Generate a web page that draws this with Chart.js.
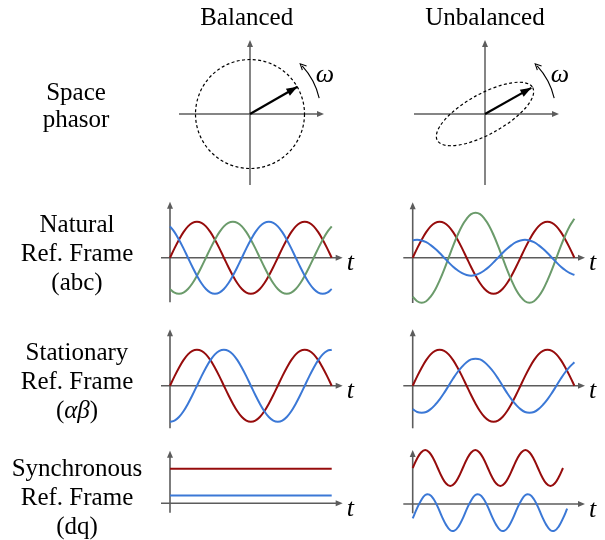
<!DOCTYPE html>
<html>
<head>
<meta charset="utf-8">
<script src="https://cdn.jsdelivr.net/npm/chart.js@4.4.0/dist/chart.umd.min.js"></script>
<style>
    body { margin: 0; background: #fff; }
    #page { position: relative; width: 605px; height: 540px; overflow: hidden; font-family: "Liberation Serif", serif; color: #000; }
    #page canvas { position: absolute; }
    .lbl { position: absolute; width: 200px; text-align: center; font-size: 25px; line-height: 29px; white-space: nowrap; }
    .lbl i { font-style: italic; }
</style>
</head>
<body>
<div id="page"></div>
<script>
// ---- data ----
// electrical angle (deg) used by the abc / alpha-beta panels
const theta = [0, 15, 30, 45, 60, 75, 90, 105, 120, 135, 150, 165, 180, 195, 210, 225, 240, 255, 270,
    285, 300, 315, 330, 345, 360, 375, 390, 405, 420, 435, 450, 465, 480, 495, 510, 525, 540];

// phase a is the same in both columns
const phaseA = [0, .26, .5, .71, .87, .97, 1, .97, .87, .71, .5, .26, 0, -.26, -.5, -.71, -.87, -.97, -1,
    -.97, -.87, -.71, -.5, -.26, 0, .26, .5, .71, .87, .97, 1, .97, .87, .71, .5, .26, 0];

// balanced abc
const balB = [-.87, -.97, -1, -.97, -.87, -.71, -.5, -.26, 0, .26, .5, .71, .87, .97, 1, .97, .87, .71, .5,
    .26, 0, -.26, -.5, -.71, -.87, -.97, -1, -.97, -.87, -.71, -.5, -.26, 0, .26, .5, .71, .87];
const balC = [.87, .71, .5, .26, 0, -.26, -.5, -.71, -.87, -.97, -1, -.97, -.87, -.71, -.5, -.26, 0, .26, .5,
    .71, .87, .97, 1, .97, .87, .71, .5, .26, 0, -.26, -.5, -.71, -.87, -.97, -1, -.97, -.87];

// unbalanced abc
const unbB = [-1.08, -1.21, -1.25, -1.21, -1.08, -.89, -.63, -.33, 0, .33, .63, .89, 1.08, 1.21, 1.25, 1.21,
    1.08, .89, .63, .33, 0, -.33, -.63, -.89, -1.08, -1.21, -1.25, -1.21, -1.08, -.89, -.63, -.33, 0, .33,
    .63, .89, 1.08];
const unbC = [.48, .5, .48, .43, .35, .25, .13, 0, -.13, -.25, -.35, -.43, -.48, -.5, -.48, -.43, -.35, -.25,
    -.13, 0, .13, .25, .35, .43, .48, .5, .48, .43, .35, .25, .13, 0, -.13, -.25, -.35, -.43, -.48];

// alpha-beta
const balBeta = [-1, -.97, -.87, -.71, -.5, -.26, 0, .26, .5, .71, .87, .97, 1, .97, .87, .71, .5, .26, 0,
    -.26, -.5, -.71, -.87, -.97, -1, -.97, -.87, -.71, -.5, -.26, 0, .26, .5, .71, .87, .97, 1];
const unbBeta = [-.65, -.73, -.75, -.73, -.65, -.53, -.38, -.2, 0, .2, .38, .53, .65, .73, .75, .73, .65, .53,
    .38, .2, 0, -.2, -.38, -.53, -.65, -.73, -.75, -.73, -.65, -.53, -.38, -.2, 0, .2, .38, .53, .65];

// dq, balanced: two constants
const dqSpan = [0, 540];
const balD = [.96, .96];
const balQ = [.22, .22];

// dq, unbalanced: ripple at twice the supply frequency (x in ripple degrees)
const ripplePhaseD = [0, 30, 60, 90, 120, 150, 180, 210, 240, 270, 300, 330, 360, 390, 420, 450, 480, 510,
    540, 570, 600, 630, 660, 690, 720, 750, 780, 810, 840, 870, 900, 930, 960, 990, 1020, 1050, 1080];
const ripplePhaseQ = [0, 30, 60, 90, 120, 150, 180, 210, 240, 270, 300, 330, 360, 390, 420, 450, 480, 510,
    540, 570, 600, 630, 660, 690, 720, 750, 780, 810, 840, 870, 900, 930, 960, 990, 1020, 1050, 1080, 1110];
const unbD = [1, 1.25, 1.43, 1.5, 1.43, 1.25, 1, .75, .57, .5, .57, .75, 1, 1.25, 1.43, 1.5, 1.43, 1.25, 1,
    .75, .57, .5, .57, .75, 1, 1.25, 1.43, 1.5, 1.43, 1.25, 1, .75, .57, .5, .57, .75, 1];
const unbQ = [-.4, -.13, .1, .25, .26, .14, -.08, -.35, -.58, -.73, -.74, -.62, -.4, -.13, .1, .25, .26, .14,
    -.08, -.35, -.58, -.73, -.74, -.62, -.4, -.13, .1, .25, .26, .14, -.08, -.35, -.58, -.73, -.74, -.62,
    -.4, -.13];

// space phasor tips and loci [semi-major, semi-minor, tilt deg]
const balTip = [.87, .5];
const unbTip = [.85, .48];
const balLocus = [1, 1, 0];
const unbLocus = [1, .37, 29];

// ---- style ----
const RED = '#960c0c';
const BLUE = '#3b78d6';
const GREEN = '#6b9b6b';
const AXIS = '#5c5c5c';
const page = document.getElementById('page');

const addCanvas = (box) => {
    const c = document.createElement('canvas');
    c.width = box.w; c.height = box.h;
    c.style.left = box.left + 'px'; c.style.top = box.top + 'px';
    page.appendChild(c);
    return c.getContext('2d');
};

// scale limits so that data (0,0) lands on the given pixel origin
const frame = (box, origin, sx, sy) => ({
    x: { type: 'linear', display: false, min: (box.left - origin.x) / sx, max: (box.left + box.w - origin.x) / sx },
    y: { type: 'linear', display: false, min: (origin.y - box.top - box.h) / sy, max: (origin.y - box.top) / sy }
});

const head = (ctx, x, y, ang, len = 7, half = 3) => {
    ctx.beginPath();
    ctx.moveTo(x, y);
    ctx.lineTo(x - len * Math.cos(ang) + half * Math.sin(ang), y - len * Math.sin(ang) - half * Math.cos(ang));
    ctx.lineTo(x - len * Math.cos(ang) - half * Math.sin(ang), y - len * Math.sin(ang) + half * Math.cos(ang));
    ctx.closePath();
    ctx.fill();
};

const seg = (ctx, x1, y1, x2, y2) => {
    ctx.beginPath(); ctx.moveTo(x1, y1); ctx.lineTo(x2, y2); ctx.stroke();
};

// axes with arrow tips plus the t label
const waveAxes = {
    id: 'waveAxes',
    beforeDatasetsDraw(chart, args, o) {
        const { ctx, scales: { x, y } } = chart;
        const ox = x.getPixelForValue(0), oy = y.getPixelForValue(0);
        ctx.save();
        ctx.strokeStyle = AXIS; ctx.fillStyle = AXIS; ctx.lineWidth = 1.6;
        seg(ctx, ox + o.left, oy, ox + o.right - 5, oy);
        head(ctx, ox + o.right, oy, 0);
        seg(ctx, ox, oy + o.down, ox, oy - o.up + 5);
        head(ctx, ox, oy - o.up, -Math.PI / 2);
        ctx.fillStyle = '#000';
        ctx.font = 'italic 26px "Liberation Serif"';
        ctx.fillText('t', ox + o.right + 4, oy + 12.5);
        ctx.restore();
    }
};

const series = (xs, ys, color) => ({
    data: xs.map((v, i) => ({ x: v, y: ys[i] })),
    borderColor: color, borderWidth: 2, pointRadius: 0, tension: 0.4, fill: false
});

const waveChart = ({ box, origin, sx, axes, datasets }) => {
    new Chart(addCanvas(box), {
        type: 'line',
        data: { datasets },
        options: {
            responsive: false, animation: false, devicePixelRatio: 1,
            layout: { padding: 0 },
            scales: frame(box, origin, sx, 36),
            plugins: { legend: { display: false }, tooltip: { enabled: false }, waveAxes: axes }
        },
        plugins: [waveAxes]
    });
};

const leftAxes = (up, down) => ({ left: -9, right: 172.7, up, down });
const rightAxes = (up, down) => ({ left: -9.4, right: 172.3, up, down });
const DEG = 161.7 / 540;

// natural frame
waveChart({ box: { left: 150, top: 195, w: 215, h: 118 }, origin: { x: 170, y: 257.7 }, sx: DEG,
    axes: leftAxes(56, 44.6),
    datasets: [series(theta, balC, BLUE), series(theta, balB, GREEN), series(theta, phaseA, RED)] });
waveChart({ box: { left: 395, top: 195, w: 210, h: 118 }, origin: { x: 412.7, y: 257.7 }, sx: DEG,
    axes: rightAxes(55.5, 45.3),
    datasets: [series(theta, unbC, BLUE), series(theta, unbB, GREEN), series(theta, phaseA, RED)] });

// stationary frame
waveChart({ box: { left: 150, top: 318, w: 215, h: 118 }, origin: { x: 170, y: 385.7 }, sx: DEG,
    axes: leftAxes(56.4, 42.6),
    datasets: [series(theta, balBeta, BLUE), series(theta, phaseA, RED)] });
waveChart({ box: { left: 395, top: 318, w: 210, h: 118 }, origin: { x: 412.7, y: 385.7 }, sx: DEG,
    axes: rightAxes(56.4, 42.6),
    datasets: [series(theta, unbBeta, BLUE), series(theta, phaseA, RED)] });

// synchronous frame
waveChart({ box: { left: 150, top: 440, w: 215, h: 100 }, origin: { x: 170, y: 503.3 }, sx: DEG,
    axes: leftAxes(52.6, 9.4),
    datasets: [series(dqSpan, balQ, BLUE), series(dqSpan, balD, RED)] });
waveChart({ box: { left: 395, top: 440, w: 210, h: 100 }, origin: { x: 412.7, y: 504 }, sx: 150.3 / 1080,
    axes: rightAxes(54, 9.3),
    datasets: [series(ripplePhaseQ, unbQ, BLUE), series(ripplePhaseD, unbD, RED)] });

// ---- space phasors ----
const UNIT = 54.5;
const phasorDecor = {
    id: 'phasorDecor',
    beforeDatasetsDraw(chart, args, o) {
        const { ctx, scales: { x, y } } = chart;
        const ox = x.getPixelForValue(0), oy = y.getPixelForValue(0);
        ctx.save();
        ctx.strokeStyle = AXIS; ctx.fillStyle = AXIS; ctx.lineWidth = 1.5;
        seg(ctx, ox - 71, oy, ox + 74 - 5, oy);
        head(ctx, ox + 74, oy, 0);
        seg(ctx, ox, oy + 71, ox, oy - 74 + 5);
        head(ctx, ox, oy - 74, -Math.PI / 2);
        // locus of the phasor tip
        const [a, b, tilt] = o.locus;
        const rx = x.getPixelForValue(a) - ox, ry = oy - y.getPixelForValue(b);
        ctx.strokeStyle = '#000'; ctx.lineWidth = 1.2; ctx.setLineDash([3, 2.4]);
        ctx.beginPath();
        ctx.ellipse(ox, oy, rx, ry, -tilt * Math.PI / 180, 0, Math.PI * 2);
        ctx.stroke();
        ctx.restore();
    },
    afterDatasetsDraw(chart) {
        const { ctx, scales: { x, y } } = chart;
        const ox = x.getPixelForValue(0), oy = y.getPixelForValue(0);
        const tip = chart.data.datasets[0].data[1];
        const tx = x.getPixelForValue(tip.x), ty = y.getPixelForValue(tip.y);
        ctx.save();
        ctx.fillStyle = '#000';
        head(ctx, tx, ty, Math.atan2(ty - oy, tx - ox), 11, 4);
        // rotation arrow
        const r = 71, a0 = -13 * Math.PI / 180, a1 = -45 * Math.PI / 180;
        ctx.strokeStyle = '#000'; ctx.lineWidth = 1.1;
        ctx.beginPath();
        ctx.arc(ox, oy, r, a0, a1 + 0.04, true);
        ctx.stroke();
        const hx = ox + r * Math.cos(a1), hy = oy + r * Math.sin(a1);
        const dir = a1 - Math.PI / 2;
        ctx.beginPath();
        ctx.moveTo(hx - 6 * Math.cos(dir) + 3 * Math.sin(dir), hy - 6 * Math.sin(dir) - 3 * Math.cos(dir));
        ctx.lineTo(hx, hy);
        ctx.lineTo(hx - 6 * Math.cos(dir) - 3 * Math.sin(dir), hy - 6 * Math.sin(dir) + 3 * Math.cos(dir));
        ctx.stroke();
        ctx.font = 'italic 26px "Liberation Serif"';
        ctx.textAlign = 'center';
        ctx.fillText('ω', ox + 75, oy - 32);
        ctx.restore();
    }
};

const phasorChart = ({ box, origin, tip, locus }) => {
    new Chart(addCanvas(box), {
        type: 'scatter',
        data: {
            datasets: [{
                data: [{ x: 0, y: 0 }, { x: tip[0], y: tip[1] }],
                showLine: true, borderColor: '#000', borderWidth: 2.2, pointRadius: 0
            }]
        },
        options: {
            responsive: false, animation: false, devicePixelRatio: 1,
            layout: { padding: 0 },
            scales: frame(box, origin, UNIT, UNIT),
            plugins: { legend: { display: false }, tooltip: { enabled: false }, phasorDecor: { locus } }
        },
        plugins: [phasorDecor]
    });
};

phasorChart({ box: { left: 160, top: 30, w: 190, h: 170 }, origin: { x: 250, y: 114 }, tip: balTip, locus: balLocus });
phasorChart({ box: { left: 395, top: 30, w: 210, h: 170 }, origin: { x: 485, y: 114 }, tip: unbTip, locus: unbLocus });

// ---- text ----
const addText = (html, cx, baseline) => {
    const d = document.createElement('div');
    d.className = 'lbl';
    d.innerHTML = html;
    d.style.left = (cx - 100) + 'px';
    d.style.top = (baseline - 22.9) + 'px';
    page.appendChild(d);
};

addText('Balanced', 246.7, 25);
addText('Unbalanced', 485, 25);
addText('Space', 76, 100);
addText('phasor', 76, 126.7);
addText('Natural', 77, 231.7);
addText('Ref. Frame', 77, 260.7);
addText('(abc)', 77, 289.5);
addText('Stationary', 77, 359.5);
addText('Ref. Frame', 77, 388.5);
addText('(<i>αβ</i>)', 77, 417.5);
addText('Synchronous', 77, 475.5);
addText('Ref. Frame', 77, 504.5);
addText('(dq)', 77, 533.5);
</script>
</body>
</html>
